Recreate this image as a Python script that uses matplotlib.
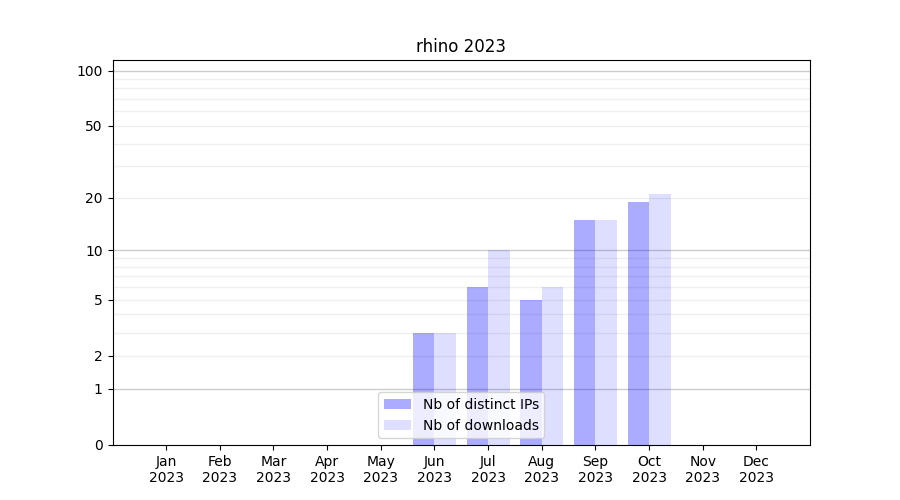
import numpy as np
import matplotlib
matplotlib.use("Agg")
import matplotlib.pyplot as plt

months = ["Jan", "Feb", "Mar", "Apr", "May", "Jun", "Jul", "Aug", "Sep", "Oct", "Nov", "Dec"]
year = "2023"
distinct_ips = [0, 0, 0, 0, 0, 3, 6, 5, 15, 19, 0, 0]
downloads = [0, 0, 0, 0, 0, 3, 10, 6, 15, 21, 0, 0]
ytick_vals = [0, 1, 2, 5, 10, 20, 50, 100]

fig, ax = plt.subplots(figsize=(9, 5), dpi=100)
ax.set_yscale("function", functions=(lambda v: np.log10(1 + np.clip(v, 0, None)),
                                     lambda v: 10 ** v - 1))

x = np.arange(len(months))
w = 0.4
ax.bar(x - w / 2, distinct_ips, width=w, color="blue", alpha=0.33, label="Nb of distinct IPs")
ax.bar(x + w / 2, downloads, width=w, color="blue", alpha=0.13, label="Nb of downloads")

for d in [1, 10, 100]:
    ax.axhline(d, color="gray", alpha=0.4, lw=1, zorder=0)
for base in [1, 10]:
    for m in range(2, 10):
        ax.axhline(base * m, color="gray", alpha=0.12, lw=1, zorder=0)

ax.set_yticks(ytick_vals)
ax.set_yticklabels([str(v) for v in ytick_vals])
ax.set_ylim(0, 114)
ax.set_xticks(x)
ax.set_xticklabels([f"{m}\n{year}" for m in months])
ax.set_xlim(-1, 12)
ax.set_title("rhino 2023")
ax.legend(loc="lower center")

fig.savefig("out.png", dpi=100)
